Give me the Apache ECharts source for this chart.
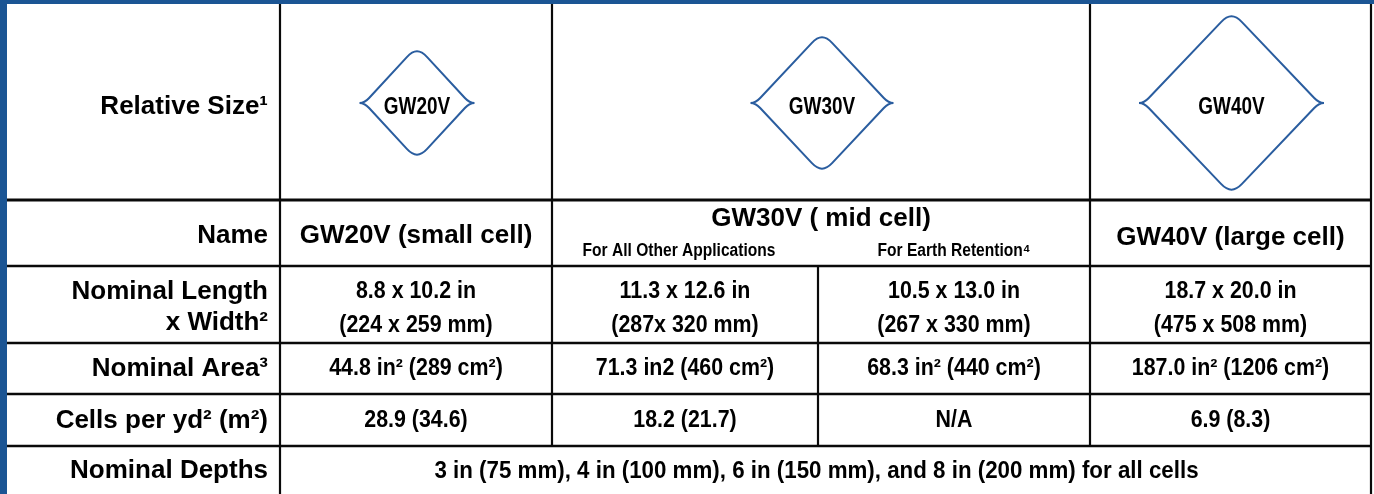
<!DOCTYPE html>
<html><head><meta charset="utf-8">
<script src="https://cdn.jsdelivr.net/npm/echarts@6/dist/echarts.min.js"></script>
<style>html,body{margin:0;padding:0;background:#fff}#c{width:1374px;height:494px}</style>
</head><body><div id="c"></div><script>
// ---------- data ----------
const rowLabels = ['Relative Size¹', 'Name', 'Nominal Length\nx Width²', 'Nominal Area³', 'Cells per yd² (m²)', 'Nominal Depths'];
const cellTypes = ['GW20V', 'GW30V', 'GW40V'];
const relativeSize = [52.5, 66.5, 87.5];
const cellNames = ['GW20V (small cell)', 'GW30V ( mid cell)', 'GW40V (large cell)'];
const gw30Uses = ['For All Other Applications', 'For Earth Retention⁴'];
const lengthWidth = ['8.8 x 10.2 in\n(224 x 259 mm)', '11.3 x 12.6 in\n(287x 320 mm)', '10.5 x 13.0 in\n(267 x 330 mm)', '18.7 x 20.0 in\n(475 x 508 mm)'];
const nominalArea = ['44.8 in² (289 cm²)', '71.3 in2 (460 cm²)', '68.3 in² (440 cm²)', '187.0 in² (1206 cm²)'];
const cellsPerYd = ['28.9 (34.6)', '18.2 (21.7)', 'N/A', '6.9 (8.3)'];
const nominalDepths = '3 in (75 mm), 4 in (100 mm), 6 in (150 mm), and 8 in (200 mm) for all cells';

// ---------- layout ----------
const W = 1374, H = 494;
const colX = [7, 280, 552, 818, 1090, 1371];
const rowY = [4, 200, 266, 343, 394, 446, 494];
const FONT = '"Liberation Sans", Arial, Helvetica, sans-serif';
const BLUE = '#1b5594';
const DIAMOND = '#2a5d9f';

const mid = (a, b) => (a + b) / 2;
const valueCols = [[1, 2], [2, 3], [3, 4], [4, 5]];
const nameCols = [[1, 2], [2, 4], [4, 5]];

const cells = [];
// row labels
const labelY = [107, 236, 307, 369, 421, 471];
rowLabels.forEach((t, i) => cells.push({ x: colX[1] - 12, y: labelY[i], text: t, align: 'right', size: 26, lh: 31 }));
// diamond captions
cellTypes.forEach((t, i) => cells.push({ x: mid(colX[nameCols[i][0]], colX[nameCols[i][1]]) + 1, y: 107, text: t, align: 'center', size: 24, sx: 0.79 }));
// names
const nameY = [236, 219, 238];
cellNames.forEach((t, i) => cells.push({ x: mid(colX[nameCols[i][0]], colX[nameCols[i][1]]), y: nameY[i], text: t, align: 'center', size: 26 }));
gw30Uses.forEach((t, i) => cells.push({ x: mid(colX[2 + i], colX[3 + i]) - (i === 0 ? 6 : 0), y: 251, text: t, align: 'center', size: 18, sx: 0.865 }));
// values
lengthWidth.forEach((t, i) => cells.push({ x: mid(colX[valueCols[i][0]], colX[valueCols[i][1]]), y: 309, text: t, align: 'center', size: 23, sx: 0.93, lh: 34 }));
nominalArea.forEach((t, i) => cells.push({ x: mid(colX[valueCols[i][0]], colX[valueCols[i][1]]), y: 369, text: t, align: 'center', size: 23, sx: 0.93 }));
cellsPerYd.forEach((t, i) => cells.push({ x: mid(colX[valueCols[i][0]], colX[valueCols[i][1]]), y: 421, text: t, align: 'center', size: 23, sx: 0.93 }));
cells.push({ x: mid(colX[1], colX[5]) - 9, y: 471, text: nominalDepths, align: 'center', size: 24, sx: 0.93 });

// grid lines [x1,y1,x2,y2,width]
const lines = [];
[rowY[1], rowY[2], rowY[3], rowY[4], rowY[5]].forEach((y, i) => lines.push([colX[0], y, colX[5], y, i === 0 ? 2.8 : 2.4]));
lines.push([colX[1], rowY[0], colX[1], rowY[6], 2.2]);
lines.push([colX[2], rowY[0], colX[2], rowY[5], 2.2]);
lines.push([colX[3], rowY[2], colX[3], rowY[5], 2.2]);
lines.push([colX[4], rowY[0], colX[4], rowY[5], 2.2]);
lines.push([colX[5], rowY[0], colX[5], rowY[6], 2.2]);

// diamonds: centre + relative size
const diamonds = cellTypes.map((t, i) => [mid(colX[nameCols[i][0]], colX[nameCols[i][1]]) + 1, 103, relativeSize[i]]);

const chart = echarts.init(document.getElementById('c'), null, { renderer: 'canvas' });
chart.setOption({
  animation: false,
  backgroundColor: '#fff',
  grid: { left: 0, right: 0, top: 0, bottom: 0 },
  xAxis: { type: 'value', min: 0, max: W, show: false },
  yAxis: { type: 'value', min: 0, max: H, inverse: true, show: false },
  series: [
    {
      type: 'custom', silent: true, clip: false,
      data: [[0, 0]],
      renderItem: (params, api) => {
        const o = api.coord([0, 0]);
        const br = api.coord([W, 4]);
        const bl = api.coord([7, H]);
        return { type: 'group', children: [
          { type: 'rect', shape: { x: o[0], y: o[1], width: br[0] - o[0], height: br[1] - o[1] }, style: { fill: BLUE } },
          { type: 'rect', shape: { x: o[0], y: o[1], width: bl[0] - o[0], height: bl[1] - o[1] }, style: { fill: BLUE } }
        ] };
      }
    },
    {
      type: 'custom', silent: true, clip: false,
      data: lines,
      renderItem: (params, api) => {
        const a = api.coord([api.value(0), api.value(1)]);
        const b = api.coord([api.value(2), api.value(3)]);
        return { type: 'line', shape: { x1: a[0], y1: a[1], x2: b[0], y2: b[1] }, style: { stroke: '#0a0a0a', lineWidth: api.value(4) } };
      }
    },
    {
      type: 'custom', silent: true, clip: false,
      data: diamonds,
      renderItem: (params, api) => {
        const c = api.coord([api.value(0), api.value(1)]);
        const e = api.coord([api.value(0) + api.value(2), api.value(1) + api.value(2) + 4.4]);
        const cx = c[0], cy = c[1], w = e[0] - cx, h = e[1] - cy;
        const r = 11, q = 0.7, t = 5, s = 5, k = w / h;
        const P = (x, y) => x.toFixed(2) + ' ' + y.toFixed(2);
        const ax = r * k;
        const d = [
          'M', P(cx - w - s, cy), 'Q', P(cx - w, cy), P(cx - w + t * k, cy - t),
          'L', P(cx - ax, cy - h + r), 'C', P(cx - ax * (1 - q), cy - h + r * (1 - q)), P(cx + ax * (1 - q), cy - h + r * (1 - q)), P(cx + ax, cy - h + r),
          'L', P(cx + w - t * k, cy - t), 'Q', P(cx + w, cy), P(cx + w + s, cy),
          'M', P(cx + w + s, cy), 'Q', P(cx + w, cy), P(cx + w - t * k, cy + t),
          'L', P(cx + ax, cy + h - r), 'C', P(cx + ax * (1 - q), cy + h - r * (1 - q)), P(cx - ax * (1 - q), cy + h - r * (1 - q)), P(cx - ax, cy + h - r),
          'L', P(cx - w + t * k, cy + t), 'Q', P(cx - w, cy), P(cx - w - s, cy)
        ].join(' ');
        return { type: 'path', shape: { pathData: d }, style: { fill: null, stroke: DIAMOND, lineWidth: 2, lineJoin: 'round' } };
      }
    },
    {
      type: 'custom', silent: true, clip: false,
      data: cells.map(c => [c.x, c.y]),
      renderItem: (params, api) => {
        const c = cells[params.dataIndex];
        const p = api.coord([api.value(0), api.value(1)]);
        return { type: 'text', x: p[0], y: p[1], scaleX: c.sx || 1, scaleY: 1,
          style: { text: c.text, x: 0, y: 0, align: c.align, verticalAlign: 'middle',
            fontSize: c.size, fontWeight: 'bold', fontFamily: FONT, fill: '#000', lineHeight: c.lh || Math.round(c.size * 1.2) } };
      }
    }
  ]
});
</script></body></html>
